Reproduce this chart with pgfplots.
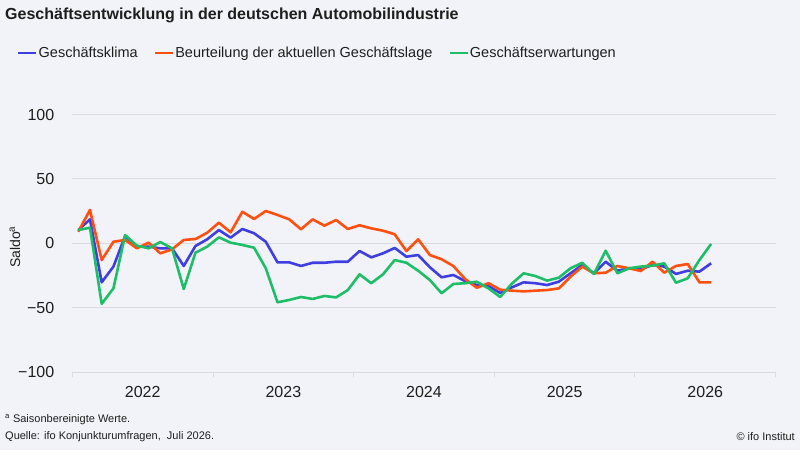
\documentclass[border=0pt]{standalone}
\usepackage{fontspec}
\setmainfont{Liberation Sans}
\usepackage{pgfplots}
\pgfplotsset{compat=1.18}
\usepackage{pgfplotstable}
\definecolor{bg}{RGB}{242,243,248}
\definecolor{cblue}{RGB}{62,62,225}
\definecolor{corange}{RGB}{255,80,15}
\definecolor{cgreen}{RGB}{30,190,105}
\definecolor{cgrid}{RGB}{218,219,226}
\definecolor{ctext}{RGB}{30,30,30}
\pgfplotstableread{
i klima lage erw
0 10.3 9 10.3
1 18.6 25.9 12.1
2 -30.3 -13 -47
3 -18.1 1.2 -35
4 5.7 2.6 6.4
5 -2.6 -3.9 -1.8
6 -2.6 0.5 -3.9
7 -3.9 -7.8 1
8 -3.9 -4.7 -3.9
9 -17.6 2.6 -35.5
10 -2.1 3.3 -7.3
11 3.1 8.2 -2.6
12 10.3 16 4.6
13 4.4 8.5 0.5
14 11.1 24.5 -1.3
15 7.8 18.9 -3.4
16 1.2 25.1 -19.4
17 -14.8 22 -45.8
18 -14.8 18.6 -44
19 -17.6 10.9 -41.7
20 -15.1 18.6 -43.2
21 -15.1 13.7 -40.9
22 -14.3 18.1 -42
23 -14.3 11.1 -36.3
24 -6 14 -24.1
25 -10.9 11.6 -31
26 -7.8 9.8 -24.1
27 -3.6 7 -13
28 -10.4 -6 -15.1
29 -9.1 3.1 -21.3
30 -18.6 -9.1 -28.5
31 -26.4 -12.4 -38.8
32 -24.6 -17.6 -31.6
33 -29.3 -27.7 -31
34 -32.4 -34.5 -29.8
35 -33.2 -31 -35
36 -38.6 -36 -41.7
37 -34.2 -36.8 -31.3
38 -30.3 -37.3 -23.3
39 -31 -36.8 -25.4
40 -32.4 -36.3 -29
41 -29.8 -35 -26.7
42 -23.3 -25.9 -19.4
43 -16.8 -18.1 -15.1
44 -23.3 -23.3 -23.8
45 -14.3 -22.8 -5.7
46 -21.3 -17.6 -23.3
47 -19.4 -19.4 -19.4
48 -20.2 -21.5 -18.1
49 -16.8 -14.3 -17.4
50 -18.1 -22.8 -15.5
51 -23.8 -17.6 -30.6
52 -21.3 -16.1 -27.2
53 -22 -30.3 -13
54 -15.5 -30.3 -0.5
}\data

\begin{document}
\begin{tikzpicture}[x=1pt,y=1pt]
\fill[bg] (0,0) rectangle (800,450);
\path[use as bounding box] (0,0) rectangle (800,450);
\node[anchor=west, inner sep=0pt, text=ctext, font=\bfseries\fontsize{16}{19}\selectfont] at (5,435) {Geschäftsentwicklung in der deutschen Automobilindustrie};
\begin{axis}[
  at={(72.4pt,77.9pt)}, anchor=south west,
  scale only axis, width=703.2pt, height=257.6pt,
  xmin=-0.5, xmax=59.5, ymin=-100, ymax=100,
  axis x line=bottom, axis y line=left,
  x axis line style={-, draw=cgrid, line width=1pt},
  y axis line style={draw=none},
  ytick={-100,-50,0,50,100},
  yticklabels={−100,−50,0,50,100},
  ytick style={draw=none},
  xtick={-0.5,11.5,23.5,35.5,47.5,59.5},
  xticklabels={2022,2023,2024,2025,2026,},
  x tick label as interval,
  xtick style={draw=cgrid, line width=1pt},
  tick align=outside, major tick length=5pt,
  ymajorgrids, grid style={cgrid, line width=1pt},
  /pgf/number format/assume math mode=true,
  tick label style={font=\fontsize{16}{19}\selectfont, text=ctext},
  yticklabel style={inner sep=0pt, xshift=-13pt},
  xticklabel style={inner sep=0pt, yshift=-9.5pt},
  ylabel={Saldo\textsuperscript{a}},
  ylabel style={at={(axis description cs:-0.0816,0.4857)}, anchor=center, font=\fontsize{14}{17}\selectfont, text=ctext},
  legend columns=3,
  legend style={at={(axis description cs:-0.0788,1.2387)}, anchor=west, draw=none, fill=none, inner sep=0pt,
    font=\fontsize{14.5}{17}\selectfont, text=ctext,
    nodes={inner xsep=1pt, inner ysep=0pt},
    /tikz/every even column/.append style={column sep=15pt}},
  legend image code/.code={\draw[#1, line width=2.5pt] (0pt,0pt) -- (18pt,0pt);},
  every axis plot/.append style={line width=2.6pt, line join=round, no marks},
]
\addplot[cblue] table[x=i, y=klima] {\data};
\addlegendentry{Geschäftsklima}
\addplot[corange] table[x=i, y=lage] {\data};
\addlegendentry{Beurteilung der aktuellen Geschäftslage}
\addplot[cgreen] table[x=i, y=erw] {\data};
\addlegendentry{Geschäftserwartungen}
\end{axis}
\node[anchor=west, inner sep=0pt, text=ctext, font=\fontsize{11}{13}\selectfont] at (5,30) {\textsuperscript{a} Saisonbereinigte Werte.};
\node[anchor=west, inner sep=0pt, text=ctext, font=\fontsize{11}{13}\selectfont] at (5,13) {Quelle: ifo Konjunkturumfragen,\ \ Juli 2026.};
\node[anchor=east, inner sep=0pt, text=ctext, font=\fontsize{11}{13}\selectfont] at (795,13) {© ifo Institut};
\end{tikzpicture}
\end{document}
